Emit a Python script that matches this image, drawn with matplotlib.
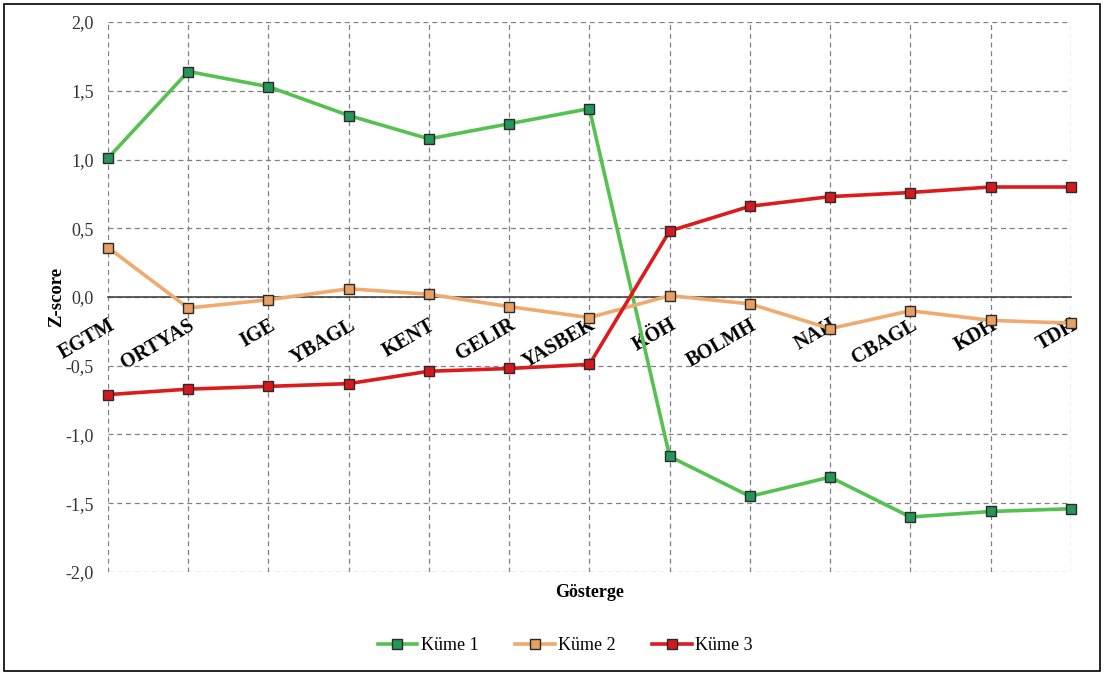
import matplotlib.pyplot as plt
from matplotlib.patches import Rectangle
from matplotlib.ticker import FuncFormatter

gostergeler = ['EGTM', 'ORTYAS', 'IGE', 'YBAGL', 'KENT', 'GELIR', 'YASBEK',
               'KÖH', 'BOLMH', 'NAH', 'CBAGL', 'KDH', 'TDH']
kume1 = [1.01, 1.64, 1.53, 1.32, 1.15, 1.26, 1.37,
         -1.16, -1.45, -1.31, -1.60, -1.56, -1.54]
kume2 = [0.36, -0.08, -0.02, 0.06, 0.02, -0.07, -0.15,
         0.01, -0.05, -0.23, -0.10, -0.17, -0.19]
kume3 = [-0.71, -0.67, -0.65, -0.63, -0.54, -0.52, -0.49,
         0.48, 0.66, 0.73, 0.76, 0.80, 0.80]
y_ticks = [-2.0, -1.5, -1.0, -0.5, 0.0, 0.5, 1.0, 1.5, 2.0]

plt.rcParams['font.family'] = ['Liberation Serif', 'DejaVu Serif']

fig = plt.figure(figsize=(11.04, 6.75), dpi=100)
ax = fig.add_axes([0.0978, 0.1526, 0.8722, 0.8148])

x = list(range(len(gostergeler)))
series = [
    (kume1, 'Küme 1', '#55C150', '#25955A'),
    (kume2, 'Küme 2', '#F0AA6E', '#E8A062'),
    (kume3, 'Küme 3', '#DC1C1C', '#D41A1E'),
]
for vals, name, lc, fc in series:
    ax.plot(x, vals, color=lc, lw=2.6, marker='s', ms=7.5,
            mfc=fc, mec='#2a2a2a', mew=1.0, label=name, zorder=3, clip_on=False)

# spine position first - it resets the tick labels
for s in ['top', 'right', 'left']:
    ax.spines[s].set_visible(False)
ax.spines['bottom'].set_position(('data', 0))
ax.spines['bottom'].set_color('#444444')
ax.spines['bottom'].set_linewidth(1.2)
ax.spines['bottom'].set_zorder(2)

ax.set_xlim(0, len(gostergeler) - 1)
ax.set_ylim(-2.0, 2.0)
ax.set_yticks(y_ticks)
ax.yaxis.set_major_formatter(FuncFormatter(lambda v, p: f'{v:.1f}'.replace('.', ',')))
ax.set_xticks(x)
ax.set_xticklabels(gostergeler)
for lab in ax.get_xticklabels():
    lab.set_rotation(30)
    lab.set_ha('right')
    lab.set_va('top')
    lab.set_rotation_mode('anchor')
    lab.set_fontweight('bold')
    lab.set_fontsize(14.5)

ax.grid(True, color='#808080', ls=(0, (4, 3)), lw=0.9)
ax.tick_params(axis='x', length=0, pad=13)
ax.tick_params(axis='y', length=0, labelsize=13, labelcolor='#333333', pad=10)

ax.set_ylabel('Z-score', fontweight='bold', fontsize=13.5)
ax.yaxis.set_label_coords(-0.045, 0.5)
ax.set_xlabel('Gösterge', fontweight='bold', fontsize=13)
ax.xaxis.set_label_coords(0.5, -0.022)

fig.legend(loc='center', bbox_to_anchor=(0.512, 0.043), ncol=3, frameon=False,
           fontsize=13, handlelength=2.2, columnspacing=2.0, handletextpad=0.2)

fig.patches.append(Rectangle((0.004, 0.006), 0.992, 0.988, transform=fig.transFigure,
                             fill=False, edgecolor='black', lw=1.2))

fig.savefig('out.png', dpi=100)
